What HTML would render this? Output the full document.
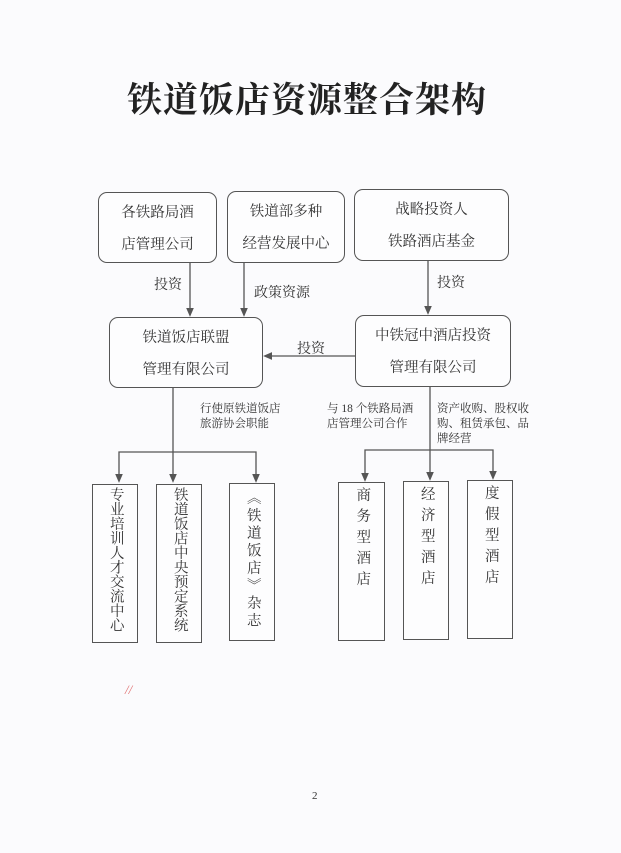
<!DOCTYPE html>
<html><head><meta charset="utf-8"><style>
body{margin:0;width:621px;height:853px;background:#fbfbfd;position:relative;overflow:hidden;font-family:"Liberation Serif","Noto Serif CJK SC",serif;color:#333}
.b{position:absolute;border:1.3px solid #555;box-sizing:border-box;background:#fdfdfe}
.r{border-radius:9px;text-align:center;font-size:14.5px;line-height:32px;padding-top:4px}
.v{font-size:14.5px;line-height:19.5px;text-align:center;padding-top:2px;writing-mode:vertical-rl;display:flex;align-items:center}
.t{position:absolute;font-size:14px;white-space:nowrap}
.s{position:absolute;font-size:11.5px;line-height:15px}
</style></head><body>
<div class="t" style="left:127px;top:73px;font-size:35px;font-weight:bold;letter-spacing:1px;color:#222">铁道饭店资源整合架构</div>
<svg width="621" height="853" style="position:absolute;left:0;top:0">
<defs><marker id="a" markerWidth="8" markerHeight="8" refX="4" refY="4" orient="auto"><path d="M0,1 L7,4 L0,7z" fill="#555"/></marker></defs>
<g stroke="#555" stroke-width="1.3" fill="none">
<line x1="190" y1="263" x2="190" y2="313" marker-end="url(#a)"/>
<line x1="244" y1="263" x2="244" y2="313" marker-end="url(#a)"/>
<line x1="428" y1="261" x2="428" y2="311" marker-end="url(#a)"/>
<line x1="355" y1="356" x2="267" y2="356" marker-end="url(#a)"/>
<line x1="173" y1="388" x2="173" y2="479" marker-end="url(#a)"/>
<polyline points="119,479 119,452 256,452 256,479"/>
<line x1="119" y1="475" x2="119" y2="479" marker-end="url(#a)"/>
<line x1="256" y1="475" x2="256" y2="479" marker-end="url(#a)"/>
<line x1="430" y1="387" x2="430" y2="477" marker-end="url(#a)"/>
<polyline points="365,478 365,450 493,450 493,476"/>
<line x1="365" y1="474" x2="365" y2="478" marker-end="url(#a)"/>
<line x1="493" y1="472" x2="493" y2="476" marker-end="url(#a)"/>
</g></svg>
<div class="b r" style="left:98px;top:192px;width:119px;height:71px">各铁路局酒<br>店管理公司</div>
<div class="b r" style="left:227px;top:191px;width:118px;height:72px">铁道部多种<br>经营发展中心</div>
<div class="b r" style="left:354px;top:189px;width:155px;height:72px">战略投资人<br>铁路酒店基金</div>
<div class="b r" style="left:109px;top:317px;width:154px;height:71px">铁道饭店联盟<br>管理有限公司</div>
<div class="b r" style="left:355px;top:315px;width:156px;height:72px">中铁冠中酒店投资<br>管理有限公司</div>
<div class="t" style="left:154px;top:274px">投资</div>
<div class="t" style="left:254px;top:282px">政策资源</div>
<div class="t" style="left:437px;top:272px">投资</div>
<div class="t" style="left:297px;top:338px">投资</div>
<div class="s" style="left:200px;top:402px">行使原铁道饭店<br>旅游协会职能</div>
<div class="s" style="left:327px;top:402px">与 18 个铁路局酒<br>店管理公司合作</div>
<div class="s" style="left:437px;top:402px">资产收购、股权收<br>购、租赁承包、品<br>牌经营</div>
<div class="b v" style="left:92px;top:484px;width:46px;height:159px">专业培训人才交流中心</div>
<div class="b v" style="left:156px;top:484px;width:46px;height:159px">铁道饭店中央预定系统</div>
<div class="b v" style="left:229px;top:483px;width:46px;height:158px;letter-spacing:3px;padding-top:6px">《铁道饭店》杂志</div>
<div class="b v" style="left:338px;top:482px;width:47px;height:159px;letter-spacing:6.5px;padding-top:4px">商务型酒店</div>
<div class="b v" style="left:403px;top:481px;width:46px;height:159px;letter-spacing:6.5px;padding-top:4px">经济型酒店</div>
<div class="b v" style="left:467px;top:480px;width:46px;height:159px;letter-spacing:6.5px;padding-top:4px">度假型酒店</div>
<div class="t" style="left:125px;top:682px;color:#e07070;font-size:13px;font-style:italic">//</div>
<div class="t" style="left:312px;top:790px;font-size:11px">2</div>
</body></html>
